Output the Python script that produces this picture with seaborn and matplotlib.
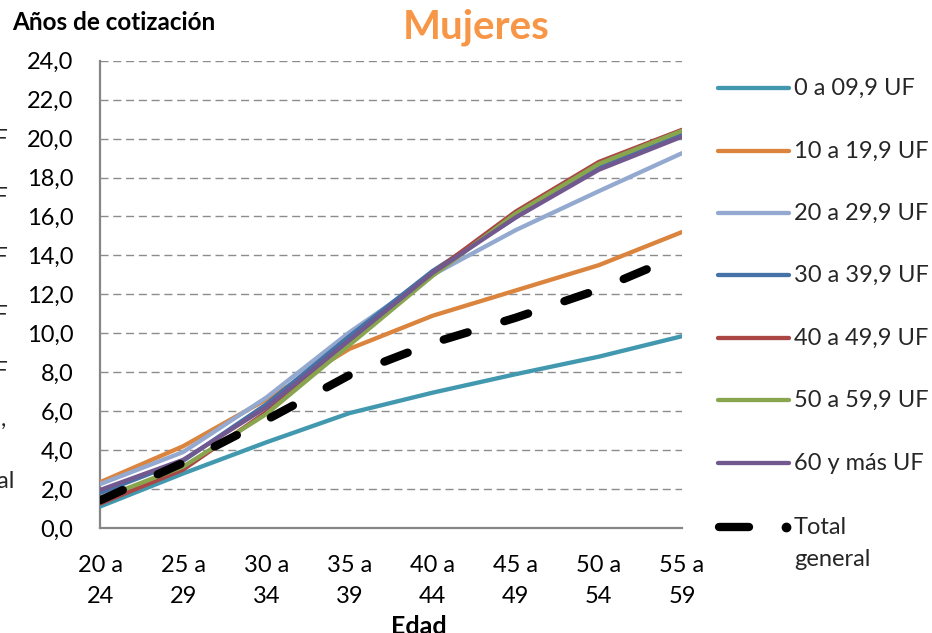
import matplotlib
matplotlib.use("Agg")
import matplotlib.pyplot as plt
from matplotlib.lines import Line2D
from matplotlib.ticker import FuncFormatter, MultipleLocator
import seaborn as sns
import pandas as pd

# Age brackets (x axis)
edades = ["20 a\n24", "25 a\n29", "30 a\n34", "35 a\n39",
          "40 a\n44", "45 a\n49", "50 a\n54", "55 a\n59"]

# Average years of contributions, women, by taxable income bracket
uf_0_10 = [1.10, 2.80, 4.40, 5.90, 6.95, 7.90, 8.80, 9.85]
uf_10_20 = [2.35, 4.20, 6.60, 9.20, 10.90, 12.20, 13.50, 15.20]
uf_20_30 = [2.25, 3.90, 6.70, 10.05, 13.00, 15.30, 17.30, 19.25]
uf_30_40 = [1.80, 3.45, 6.35, 9.85, 13.20, 15.95, 18.55, 20.30]
uf_40_50 = [1.25, 3.00, 5.95, 9.50, 13.10, 16.25, 18.80, 20.45]
uf_50_60 = [1.50, 3.15, 5.85, 9.40, 12.95, 16.15, 18.70, 20.40]
uf_60_mas = [1.95, 3.50, 6.20, 9.65, 13.10, 15.95, 18.40, 20.10]
total_general = [1.42, 3.35, 5.55, 7.85, 9.50, 10.80, 12.25, 14.05]

series = ["0 a 09,9 UF", "10 a 19,9 UF", "20 a 29,9 UF", "30 a 39,9 UF",
          "40 a 49,9 UF", "50 a 59,9 UF", "60 y más UF"]
values = [uf_0_10, uf_10_20, uf_20_30, uf_30_40, uf_40_50, uf_50_60, uf_60_mas]
colors = ["#4198AF", "#DB843D", "#93A9CF", "#4572A7",
          "#AA4643", "#89A54E", "#71588F"]

df = pd.DataFrame([
    {"Edad": e, "Años": v, "Tramo": s}
    for s, vals in zip(series, values) for e, v in zip(edades, vals)
])
df_total = pd.DataFrame({"Edad": edades, "Años": total_general})

sns.set_style("white")
plt.rcParams["font.family"] = ["Lato", "DejaVu Sans"]

W, H = 932, 633
fig = plt.figure(figsize=(W / 100, H / 100), dpi=100)
ax = fig.add_axes([100 / W, 1 - 528 / H, 582 / W, 467.3 / H])

grid_c = "#8C8C8C"
for v in range(2, 25, 2):
    ax.axhline(v, color=grid_c, lw=1.0, ls=(0, (5.8, 3.4)), zorder=0)

for s, c in zip(series, colors):
    sns.lineplot(data=df[df["Tramo"] == s], x="Edad", y="Años", color=c,
                 lw=3.1, sort=False, ax=ax, legend=False,
                 solid_capstyle="round", zorder=3)

sns.lineplot(data=df_total, x="Edad", y="Años", color="black", lw=6.0,
             sort=False, ax=ax, legend=False, linestyle=(0, (3.0, 4.6)),
             dash_capstyle="round", zorder=4)

ax.set_xlim(0, len(edades) - 1)
ax.set_ylim(0, 24)
ax.yaxis.set_major_locator(MultipleLocator(2))
ax.yaxis.set_major_formatter(FuncFormatter(lambda v, p: f"{v:.1f}".replace(".", ",")))

for side in ("top", "right"):
    ax.spines[side].set_visible(False)
for side in ("left", "bottom"):
    ax.spines[side].set_color("#868686")
    ax.spines[side].set_linewidth(1.6)

ax.tick_params(axis="y", length=0, pad=19, labelsize=17, colors="black")
ax.tick_params(axis="x", direction="inout", length=11, width=1.4,
               color="#868686", pad=14, labelsize=17, labelcolor="black")
for t in ax.get_xticklabels():
    t.set_linespacing(1.6)
ax.set_xlabel("")
ax.set_ylabel("")

# Titles
fig.text(476 / W, 1 - 27 / H, "Mujeres", ha="center", va="center",
         fontsize=29, fontweight="bold", color="#F79646")
fig.text(12 / W, 1 - 22 / H, "Años de cotización", ha="left", va="center",
         fontsize=17.5, fontweight="bold", color="black")
fig.text(419 / W, 1 - 627 / H, "Edad", ha="center", va="center",
         fontsize=18, fontweight="bold", color="black")

# Legend drawn at the right of the plot area
rows = [88, 151, 213, 275, 338, 400, 463]
for s, c, yy in zip(series, colors, rows):
    fy = 1 - yy / H
    fig.add_artist(Line2D([718 / W, 789 / W], [fy, fy], color=c, lw=3.1,
                          solid_capstyle="round", transform=fig.transFigure))
    fig.text(794 / W, fy, s, ha="left", va="center", fontsize=17)

fy = 1 - 527 / H
fig.add_artist(Line2D([719 / W, 749 / W], [fy, fy], color="black", lw=6.0,
                      solid_capstyle="round", transform=fig.transFigure))
fig.add_artist(Line2D([786 / W], [fy], color="black", marker="o", ms=6,
                      lw=0, transform=fig.transFigure))
fig.text(794 / W, fy, "Total", ha="left", va="center", fontsize=17)
fig.text(794 / W, 1 - 560 / H, "general", ha="left", va="center", fontsize=17)

# Edge of the neighbouring panel's legend
for yy in [140, 198, 258, 316, 372]:
    fig.text(8 / W, 1 - yy / H, "UF", ha="right", va="center", fontsize=17)
fig.text(6 / W, 1 - 420 / H, ",", ha="right", va="center", fontsize=17)
fig.text(15 / W, 1 - 482 / H, "general", ha="right", va="center", fontsize=17)

fig.savefig("out.png", dpi=100, facecolor="white")
